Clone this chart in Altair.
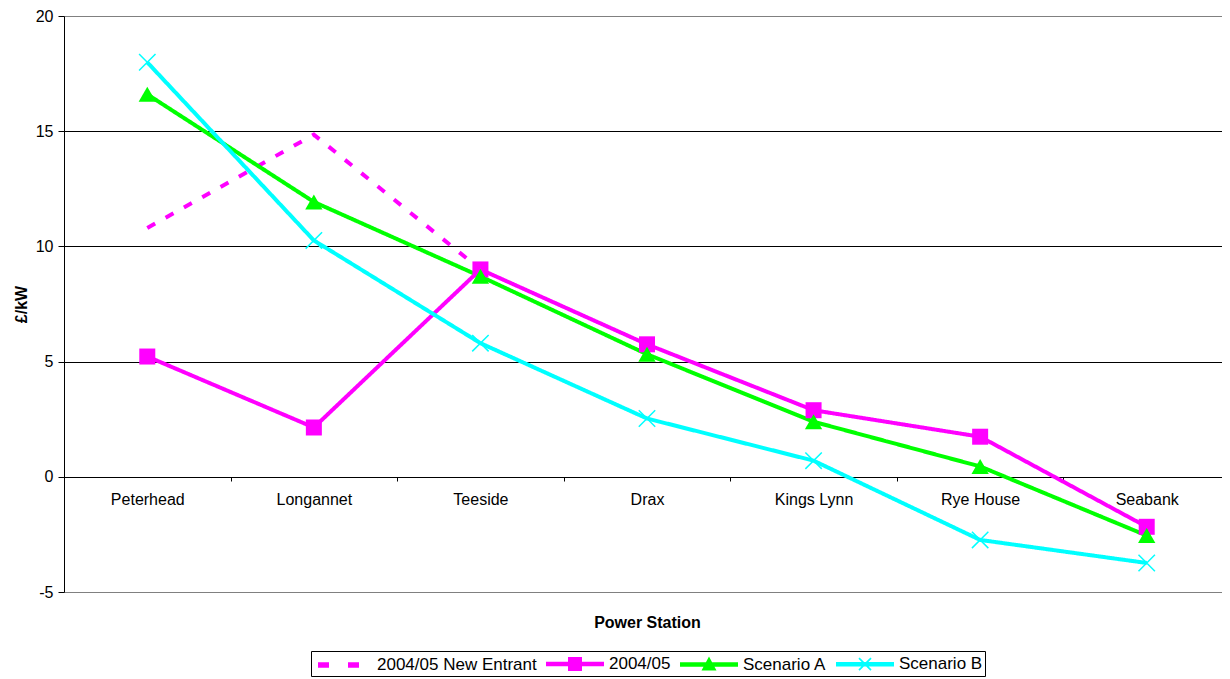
import altair as alt
import pandas as pd

stations = ["Peterhead", "Longannet", "Teeside", "Drax", "Kings Lynn", "Rye House", "Seabank"]
new_entrant = [10.8, 14.85, 9.0, None, None, None, None]
base_0405 = [5.22, 2.14, 9.0, 5.75, 2.89, 1.74, -2.17]
scenario_a = [16.6, 11.93, 8.7, 5.32, 2.39, 0.45, -2.55]
scenario_b = [17.99, 10.26, 5.8, 2.53, 0.70, -2.74, -3.74]

series_names = ["2004/05 New Entrant", "2004/05", "Scenario A", "Scenario B"]
series_colors = ["#FF00FF", "#FF00FF", "#00FF00", "#00FFFF"]
series_dash = [[9, 12], [1, 0], [1, 0], [1, 0]]

rows = []
for k, (name, vals) in enumerate(zip(series_names, [new_entrant, base_0405, scenario_a, scenario_b])):
    for st, v in zip(stations, vals):
        if v is not None:
            rows.append({"station": st, "value": v, "series": name, "order": k})
df = pd.DataFrame(rows)

# legend symbols: line + marker drawn as filled paths (1 unit = 10 px at symbolSize 400)
legend_paths = [
    "M-2.5,-0.27H-1.4V0.27H-2.5Z M0.5,-0.27H1.6V0.27H0.5Z",
    "M-2.9,-0.23H2.9V0.23H-2.9Z M-0.7,-0.7H0.7V0.7H-0.7Z",
    "M-2.9,-0.23H2.9V0.23H-2.9Z M0,-0.8L0.75,0.6H-0.75Z",
    "M-2.9,-0.23H2.9V0.23H-2.9Z M-0.54,-0.66L0.66,0.54L0.54,0.66L-0.66,-0.54Z M-0.66,0.54L0.54,-0.66L0.66,-0.54L-0.54,0.66Z",
]

FONT = "Arial"

x_enc = alt.X(
    "station:N",
    sort=stations,
    scale=alt.Scale(type="band", domain=stations, range=[0, 1166], paddingInner=0, paddingOuter=0),
    axis=alt.Axis(
        title="Power Station",
        titleFont=FONT, titleFontSize=16, titleFontWeight="bold", titleColor="black",
        titlePadding=107,
        labelFont=FONT, labelFontSize=16, labelColor="black", labelAngle=0,
        labelPadding=10,
        offset=-115,
        domainColor="black", domainWidth=1,
        tickBand="extent", tickColor="black", tickSize=4,
        grid=False,
    ),
)
y_enc = alt.Y(
    "value:Q",
    scale=alt.Scale(domain=[-5, 20], nice=False, zero=False),
    axis=alt.Axis(
        title="£/kW",
        titleFont=FONT, titleFontSize=16, titleFontWeight="bold", titleColor="black",
        titlePadding=6,
        labelFont=FONT, labelFontSize=16, labelColor="black",
        labelPadding=5,
        labelExpr="'' + datum.value",
        values=[-5, 0, 5, 10, 15, 20],
        domainColor="black", domainWidth=1,
        tickColor="black", tickSize=6,
        grid=True,
        gridColor={"condition": {"test": "datum.value == 20 || datum.value == -5", "value": "#808080"}, "value": "black"},
        gridWidth=1,
    ),
)

base = alt.Chart(df)

line_layers = []
for name, col, dash in zip(series_names, series_colors, series_dash):
    line_layers.append(
        base.transform_filter(alt.datum.series == name)
        .mark_line(strokeWidth=4, strokeCap="butt", color=col, strokeDash=dash)
        .encode(x=x_enc, y=y_enc)
    )

sq = base.transform_filter(alt.datum.series == "2004/05").mark_point(
    shape="square", filled=True, size=256, opacity=1, strokeWidth=0, color="#FF00FF"
).encode(x=x_enc, y=y_enc)

tri = base.transform_filter(alt.datum.series == "Scenario A").mark_point(
    shape="triangle-up", filled=True, size=300, opacity=1, strokeWidth=0, color="#00FF00"
).encode(x=x_enc, y=y_enc)

xs = base.transform_filter(alt.datum.series == "Scenario B").mark_point(
    shape="M-1,-1L1,1M-1,1L1,-1", filled=False, size=270, opacity=1, strokeWidth=1.5, color="#00FFFF"
).encode(x=x_enc, y=y_enc)

legend_cfg = dict(
    title=None,
    orient="none",
    legendX=247,
    legendY=635,
    direction="horizontal",
    columns=4,
    symbolSize=400,
    symbolOffset=19,
    labelOffset=23,
    columnPadding=6,
    labelFont=FONT,
    labelFontSize=17,
    labelColor="black",
    strokeColor="black",
    padding=2,
    symbolOpacity=1,
)

legend_layer = base.mark_point(filled=True, size=0, strokeWidth=0).encode(
    x=x_enc,
    y=y_enc,
    color=alt.Color(
        "series:N",
        scale=alt.Scale(domain=series_names, range=series_colors),
        legend=alt.Legend(**legend_cfg),
    ),
    shape=alt.Shape(
        "series:N",
        scale=alt.Scale(domain=series_names, range=legend_paths),
        legend=alt.Legend(**legend_cfg),
    ),
)

chart = alt.layer(
    *line_layers, sq, tri, xs, legend_layer
).properties(
    width=1158,
    height=576,
    autosize=alt.AutoSizeParams(type="none"),
    padding={"left": 56, "top": 8, "right": 0, "bottom": 86},
).configure_view(stroke=None).configure(background="white")

chart.save("out.html", embed_options={"renderer": "svg", "actions": False})
